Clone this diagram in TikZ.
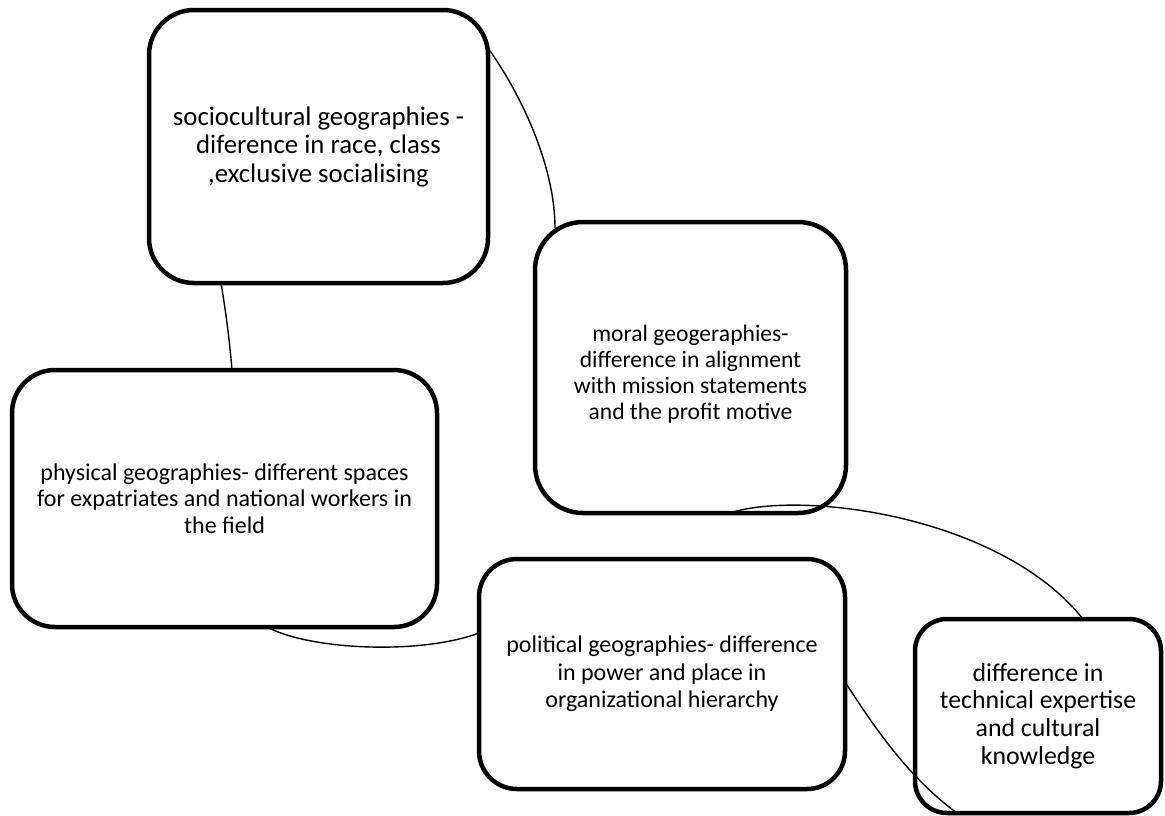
\documentclass[tikz,border=0pt]{standalone}
\usepackage{fontspec}
\setmainfont{Carlito}
\usetikzlibrary{calc}
\begin{document}
\begin{tikzpicture}[x=1pt,y=-1pt,
  geobox/.style={draw=black,line width=4.5pt,fill=white,inner sep=0pt,outer sep=0pt,
    align=center,text=black},
  link/.style={draw=black,line width=1.4pt}]
\useasboundingbox (0,0) rectangle (1165,815);

% the five rounded boxes (corner radius = one sixth of the shorter side)
\node[geobox,minimum width=339pt,minimum height=273pt,rounded corners=45pt,
  font=\fontsize{26.8}{28.5}\selectfont] (b1) at (318.5,146.5)
  {sociocultural geographies -\\diference in race, class\\,exclusive socialising};
% text of this box sits a little below its middle
\node[geobox,minimum width=311pt,minimum height=291pt,rounded corners=48pt,
  font=\fontsize{23.6}{26.2}\selectfont] (b2) at (690.5,367.5)
  {\raisebox{-14pt}[0pt][0pt]{\begin{tabular}{@{}c@{}}moral geogeraphies-\\difference in alignment\\with mission statements\\and the profit motive\end{tabular}}};
\node[geobox,minimum width=425pt,minimum height=257pt,rounded corners=43pt,
  font=\fontsize{24}{26.7}\selectfont] (b3) at (224.5,498.5)
  {physical geographies- different spaces\\for expatriates and national workers in\\the field};
\node[geobox,minimum width=366pt,minimum height=230pt,rounded corners=38pt,
  font=\fontsize{24}{27.5}\selectfont] (b4) at (662,674)
  {political geographies- difference\\in power and place in\\organizational hierarchy};
\node[geobox,minimum width=246pt,minimum height=194pt,rounded corners=32pt,
  font=\fontsize{25.8}{27.8}\selectfont] (b5) at (1038,716)
  {difference in\\technical expertise\\and cultural\\knowledge};

% connecting curves
\draw[link] ($(b1.north east)+(0,38)$) .. controls (525,100) and (555,170) .. ($(b2.north west)+(20,6)$);
\draw[link] ($(b1.south west)+(72,0)$) .. controls (226,312) and (230,345) .. ($(b3.north west)+(220,0)$);
\draw[link] ($(b3.south west)+(255,0)$) .. controls (310,650) and (420,655) .. ($(b4.north west)+(0,74)$);
\draw[link] ($(b4.north east)+(0,123)$) .. controls (870,720) and (905,775) .. ($(b5.south west)+(42,0)$);
\draw[link] ($(b2.south west)+(195,0)$) .. controls (800,490) and (1000,515) .. ($(b5.north west)+(168,0)$);
\end{tikzpicture}
\end{document}
